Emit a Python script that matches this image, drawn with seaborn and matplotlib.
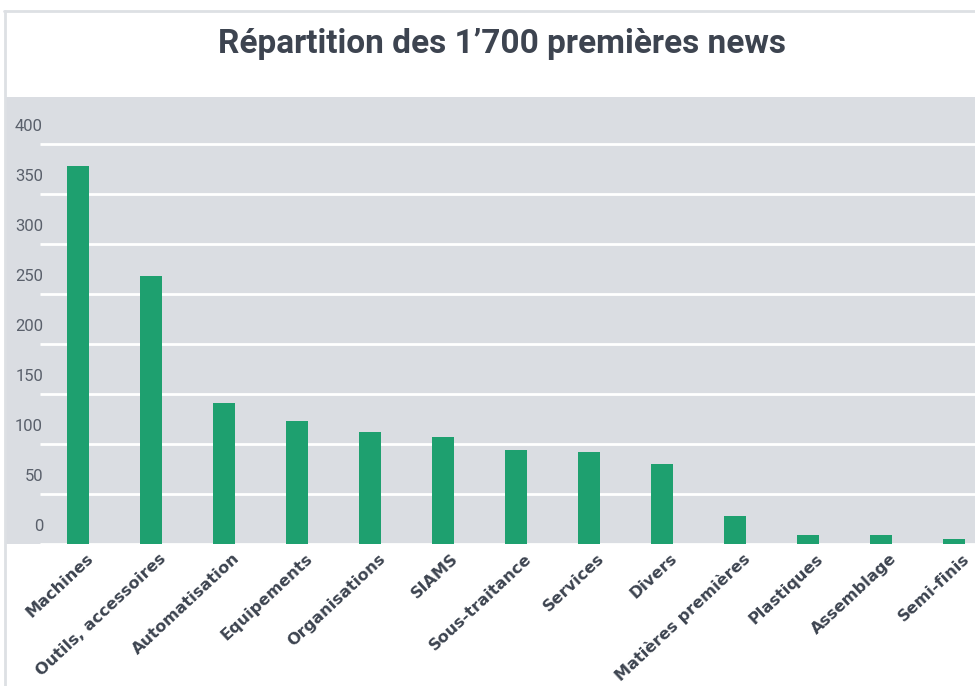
import matplotlib.pyplot as plt
import matplotlib.transforms as mtransforms
from matplotlib.lines import Line2D
import seaborn as sns
import pandas as pd

# Données
categories = ["Machines", "Outils, accessoires", "Automatisation", "Equipements",
              "Organisations", "SIAMS", "Sous-traitance", "Services", "Divers",
              "Matières premières", "Plastiques", "Assemblage", "Semi-finis"]
valeurs = [378, 268, 141, 123, 112, 107, 94, 92, 80, 28, 9, 9, 5]
graduations = [0, 50, 100, 150, 200, 250, 300, 350, 400]

df = pd.DataFrame({"categorie": categories, "nombre": valeurs})

sns.set_theme(style="white")
plt.rcParams['font.family'] = ['Roboto', 'DejaVu Sans']

fig = plt.figure(figsize=(9.75, 6.86), dpi=100)
W, H = 975, 686
ax = fig.add_axes([5 / W, (H - 544) / H, 970 / W, 447 / H])
ax.set_facecolor("#dadde2")

sns.barplot(data=df, x="categorie", y="nombre", color="#1ea06f",
            width=0.31, saturation=1, linewidth=0, ax=ax, zorder=3)

ax.set_xlim(-1, 12.29)
ax.set_ylim(0, 447)
ax.set_yticks(graduations)
ax.hlines(graduations, 35 / 970, 1, transform=ax.get_yaxis_transform(),
          color="white", lw=2, zorder=1)
for s in ax.spines.values():
    s.set_visible(False)

ax.set_xlabel("")
ax.set_ylabel("")
ax.tick_params(axis="y", length=0, pad=-27.4, labelsize=12, labelcolor="#5a606b")
ax.tick_params(axis="x", length=0, pad=5)
decal = mtransforms.ScaledTranslation(0, 0.19, fig.dpi_scale_trans)
for lab in ax.get_yticklabels():
    lab.set_transform(lab.get_transform() + decal)

ax.set_xticks(range(len(categories)))
ax.set_xticklabels(categories, rotation=43, ha="right", rotation_mode="anchor",
                   fontsize=11.6, fontweight="bold", color="#3d4450",
                   family=["DejaVu Sans"])
decal_x = mtransforms.ScaledTranslation(0.08, 0, fig.dpi_scale_trans)
for lab in ax.get_xticklabels():
    lab.set_transform(lab.get_transform() + decal_x)

# Cadre extérieur
fig.add_artist(Line2D([4 / W, 1], [1 - 11 / H, 1 - 11 / H], color="#dde0e4", lw=2))
fig.add_artist(Line2D([5 / W, 5 / W], [0, 1 - 11 / H], color="#dde0e4", lw=2))

fig.text(502 / W, 1 - 44 / H, "Répartition des 1’700 premières news",
         ha="center", va="center", fontsize=24, fontweight="bold", color="#3d4450")

fig.savefig("out.png", dpi=100)
